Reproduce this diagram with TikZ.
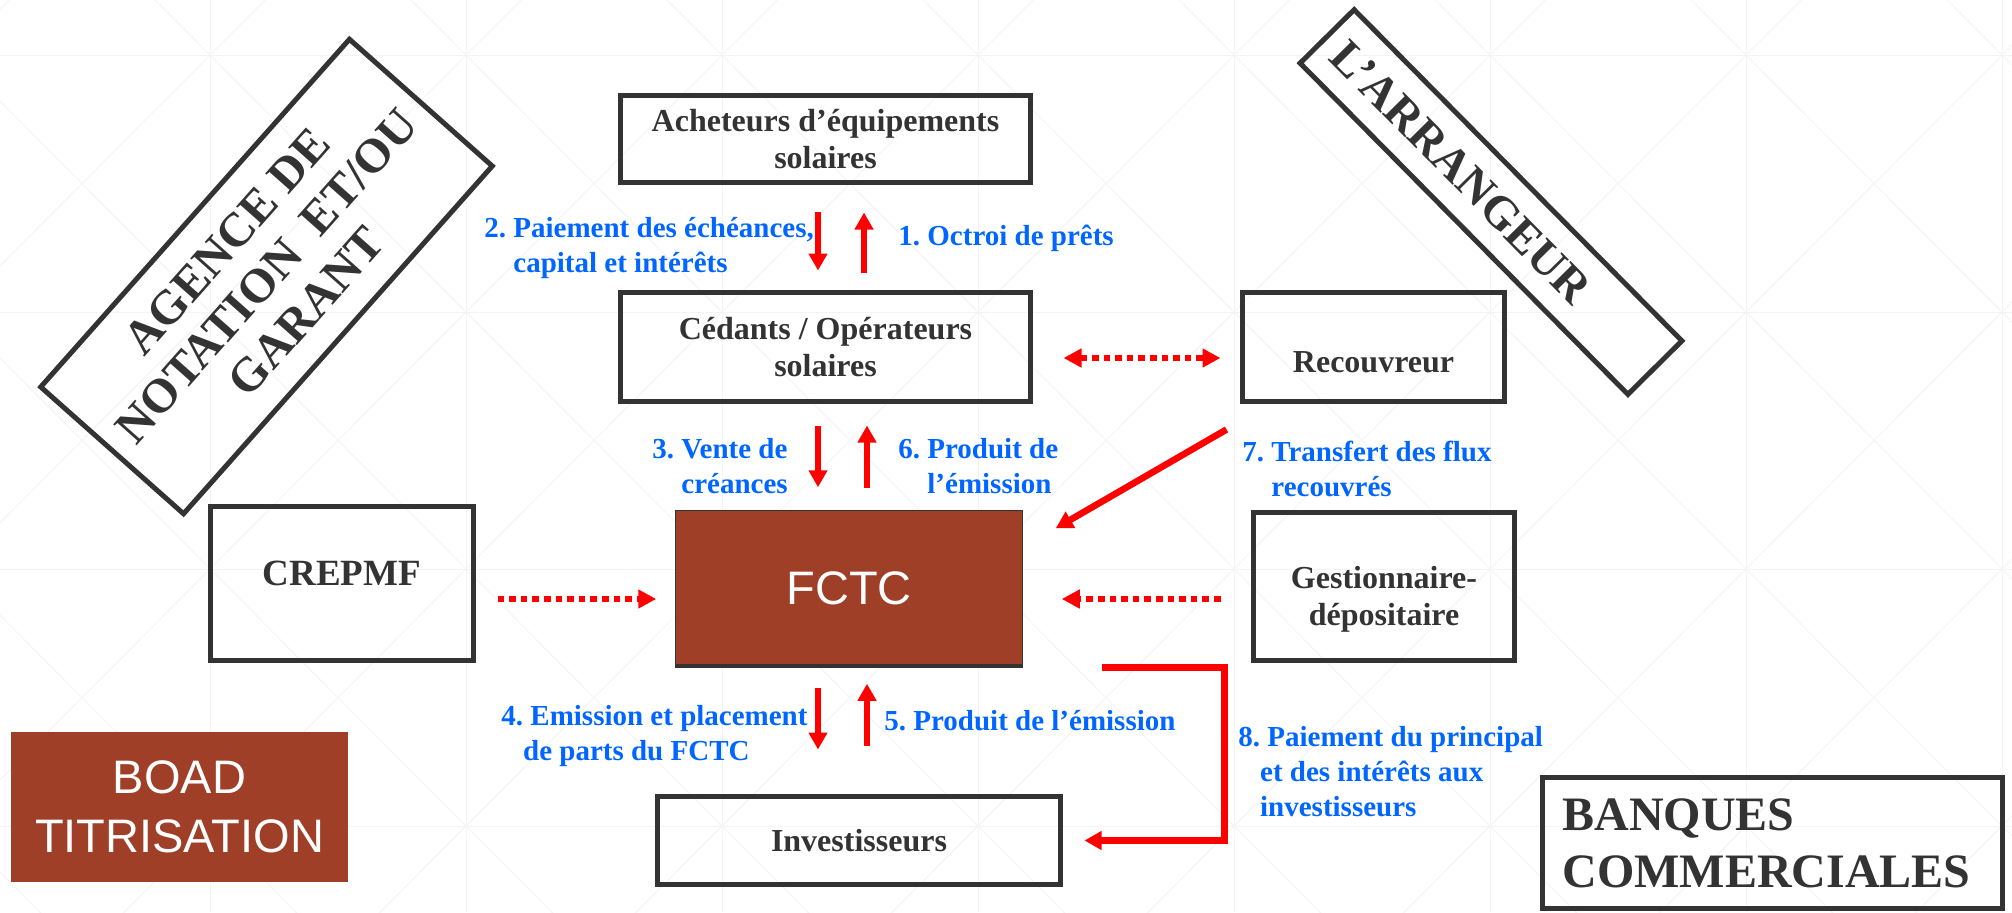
\documentclass[tikz,border=0pt]{standalone}
\usepackage{fontspec}
\setmainfont{Liberation Serif}
\newfontfamily\arialfont{Liberation Sans}
\frenchspacing
\usetikzlibrary{arrows.meta}
\definecolor{boxgray}{HTML}{333333}
\definecolor{flowblue}{HTML}{0066FF}
\definecolor{fctcbrown}{RGB}{160,63,40}
\definecolor{gridgray}{HTML}{F4F4F4}
\tikzset{
  boxtxt/.style={text=boxgray, align=center, inner sep=0pt, font=\bfseries\fontsize{16}{18.5}\selectfont},
  box/.style={boxtxt, draw=boxgray, line width=2.5pt},
  bigbox/.style={box, font=\bfseries\fontsize{24}{26.5}\selectfont},
  brownbox/.style={fill=fctcbrown, text=white, align=center, inner sep=0pt, font=\arialfont\fontsize{23.5}{29.5}\selectfont},
  flowlbl/.style={text=flowblue, align=left, anchor=north west, inner sep=0pt, font=\bfseries\fontsize{14.5}{17.5}\selectfont},
  flow/.style={red, line width=3.3pt, -{Triangle[length=8.5pt,width=9pt]}},
  dotflow/.style={red, line width=3.3pt, dash pattern=on 3.3pt off 2.5pt, -{Triangle[length=9pt,width=9pt]}},
}
\begin{document}
\begin{tikzpicture}[x=0.5pt, y=-0.5pt]
        \useasboundingbox (0,0) rectangle (2012,912);
        % Background grid
        \begin{scope}
        \clip (0,0) rectangle (2012,912);
            \foreach \gx in {-46,210,...,2002}
        {
        \draw[gridgray, line width=0.5pt] (\gx,0) -- (\gx,912);
            \foreach \gy in {-202,55,...,826}
            {
            \draw[gridgray, line width=0.5pt] (\gx,\gy) -- ++(256,257);
            \draw[gridgray, line width=0.5pt] (\gx+256,\gy) -- ++(-256,257);
            }
        }
            \foreach \gy in {55,312,...,826}
        \draw[gridgray, line width=0.5pt] (0,\gy) -- (2012,\gy);
        \end{scope}
        % Boxes
        \node[box, minimum width=205pt, minimum height=43.5pt] (ach) at (825.5,139) {Acheteurs d’équipements\\solaires};
        \node[box, minimum width=205pt, minimum height=54.5pt] (ced) at (825.5,347) {Cédants / Opérateurs\\solaires};
        \node[box, minimum width=131pt, minimum height=54.5pt,
              label={[boxtxt, yshift=-7.5pt]center:Recouvreur}] (rec) at (1373.5,347) {};
        \node[box, minimum width=131.5pt, minimum height=77pt,
              label={[boxtxt, font=\bfseries\fontsize{18.5}{22}\selectfont, yshift=5pt]center:CREPMF}] (crep) at (342,583.5) {};
        \node[brownbox, draw=boxgray, line width=0.75pt, minimum width=173.5pt, minimum height=78pt] (fctc) at (849,588.5) {FCTC};
        \draw[boxgray, line width=2pt] ([yshift=0.75pt]fctc.south west) -- ([yshift=0.75pt]fctc.south east);
        \node[box, minimum width=130.5pt, minimum height=74pt,
              label={[boxtxt, yshift=-6.5pt]center:{Gestionnaire-\\dépositaire}}] (gest) at (1384,586.5) {};
        \node[box, minimum width=201.5pt, minimum height=44pt] (inv) at (859,840.5) {Investisseurs};
        \node[box, align=left, text width=210pt, inner xsep=10pt, minimum height=65.5pt,
              font=\bfseries\fontsize{24}{28.5}\selectfont] (banq) at (1772.5,843) {BANQUES\\COMMERCIALES};
        \node[brownbox, minimum width=168.5pt, minimum height=75pt] (boad) at (179.5,807) {BOAD\\TITRISATION};
        \node[bigbox, rotate=48.4, minimum width=232.5pt, minimum height=95.5pt] (agence) at (266.5,276.5)
            {AGENCE DE\\NOTATION\ \ ET/OU\\GARANT};
        \node[box, rotate=-45.3, minimum width=233pt, minimum height=38pt] (arr) at (1491,202) {};
        \node[boxtxt, rotate=-45.3, font=\bfseries\fontsize{23.5}{28}\selectfont] (arrtxt) at (1461,172) {L’ARRANGEUR};
        % Flows
        \draw[flow, shorten <=13.25pt, shorten >=9.75pt] ([xshift=-3.75pt]ach.south) -- ([xshift=-3.75pt]ced.north);
        \draw[flow, shorten <=8.75pt, shorten >=13.75pt] ([xshift=19.25pt]ced.north) -- ([xshift=19.25pt]ach.south);
        \draw[flow, shorten <=10.75pt, shorten >=11.25pt] ([xshift=-3.75pt]ced.south) -- ([xshift=-15.5pt]fctc.north);
        \draw[flow, shorten <=10.75pt, shorten >=10.75pt] ([xshift=9pt]fctc.north) -- ([xshift=20.75pt]ced.south);
        \draw[flow, shorten <=10.25pt, shorten >=22.25pt] ([xshift=-15.5pt]fctc.south) -- ([xshift=-20.5pt]inv.north);
        \draw[flow, shorten <=24.25pt, shorten >=8.25pt] ([xshift=4pt]inv.north) -- ([xshift=9pt]fctc.south);
        \draw[flow] ([xshift=-6.75pt, yshift=-12.75pt]rec.south west) -- ([xshift=16.25pt, yshift=-9.25pt]fctc.north east);
        \draw[flow] ([xshift=39.25pt]fctc.south east) -| ([xshift=80.75pt]inv.east) -- ([xshift=10.75pt]inv.east);
        % Dotted flows
        \draw[dotflow, {Triangle[length=9pt,width=9pt]}-{Triangle[length=9pt,width=9pt]}, shorten <=15.25pt, shorten >=9.75pt]
            ([yshift=-5.5pt]ced.east) -- ([yshift=-5.5pt]rec.west);
        \draw[dotflow, shorten <=10.75pt, shorten >=9.25pt] ([yshift=-7.75pt]crep.east) -- ([yshift=-5.25pt]fctc.west);
        \draw[dotflow, shorten <=15.25pt, shorten >=19.25pt] ([yshift=-6.25pt]gest.west) -- ([yshift=-5.25pt]fctc.east);
        % Labels
        \node[flowlbl] (lbl1) at (898,225) {1. Octroi de prêts};
        \node[flowlbl] (lbl2) at (484,217) {2. Paiement des échéances,\\\hspace*{1em}capital et intérêts};
        \node[flowlbl] (lbl3) at (652,438) {3. Vente de\\\hspace*{1em}créances};
        \node[flowlbl] (lbl4) at (501,705) {4. Emission et placement\\\hspace*{.75em}de parts du FCTC};
        \node[flowlbl] (lbl5) at (884,710) {5. Produit de l’émission};
        \node[flowlbl] (lbl6) at (898,438) {6. Produit de\\\hspace*{1em}l’émission};
        \node[flowlbl] (lbl7) at (1242,441) {7. Transfert des flux\\\hspace*{1em}recouvrés};
        \node[flowlbl] (lbl8) at (1238,726) {8. Paiement du principal\\\hspace*{.75em}et des intérêts aux\\\hspace*{.75em}investisseurs};
\end{tikzpicture}
\end{document}
